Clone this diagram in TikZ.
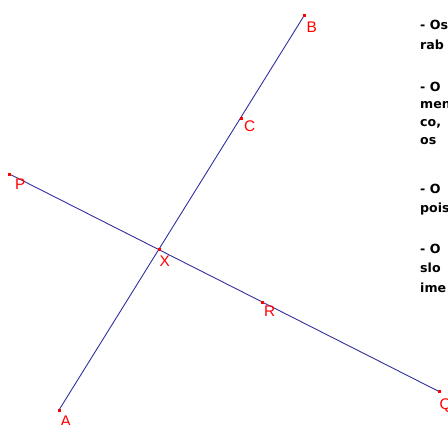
\documentclass[tikz,border=0pt]{standalone}
\usepackage{fontspec}
\setmainfont{Liberation Sans}
\newfontfamily\notefont{DejaVu Sans}
\usepackage{xcolor}
\usepackage{tikz}
\usetikzlibrary{positioning}

\definecolor{segblue}{RGB}{48,48,160}

\begin{document}
\begin{tikzpicture}[
  x=1pt, y=-1pt,
  seg/.style={draw=segblue, line width=0.9pt},
  dot/.style={rectangle, fill=red, minimum size=3pt, inner sep=0pt},
  lbl/.style={anchor=north west, inner sep=0pt, text=red, font=\fontsize{15.4}{16}\selectfont},
  note/.style={anchor=base west, inner sep=0pt, font=\notefont\bfseries\fontsize{12.6}{14}\selectfont},
]
  \useasboundingbox (0,0) rectangle (448,424);
  \clip (0,0) rectangle (448,424);

  \coordinate (A) at (59,410);
  \coordinate (B) at (304.5,15);
  \coordinate (C) at (241,118);
  \coordinate (X) at (159,249);
  \coordinate (P) at (9.5,174);
  \coordinate (Q) at (439,391.5);
  \coordinate (R) at (262,302.5);

  \draw[seg] (A) -- (B);
  \draw[seg] (P) -- (Q);

  \foreach \p in {A,B,C,X,P,Q,R}
    \node[dot] at (\p) {};

  \node[lbl] (lB) at (306.5,21.5) {B};
  \node[lbl] (lC) at (244,120.5) {C};
  \node[lbl] (lX) at (159.5,256) {X};
  \node[lbl] (lP) at (15,179) {P};
  \node[lbl] (lR) at (264,306) {R};
  \node[lbl] (lQ) at (439.5,398.5) {Q};
  \node[lbl] (lA) at (60.5,416) {A};

  \foreach \y/\t in {29/- Os, 49/rab, 91/- O, 108/men, 126/{co,}, 144/os,
                     193/- O, 212/pois, 253/- O, 272/slo, 292/ime}
    \node[note] at (420,\y) {\t};
\end{tikzpicture}
\end{document}
